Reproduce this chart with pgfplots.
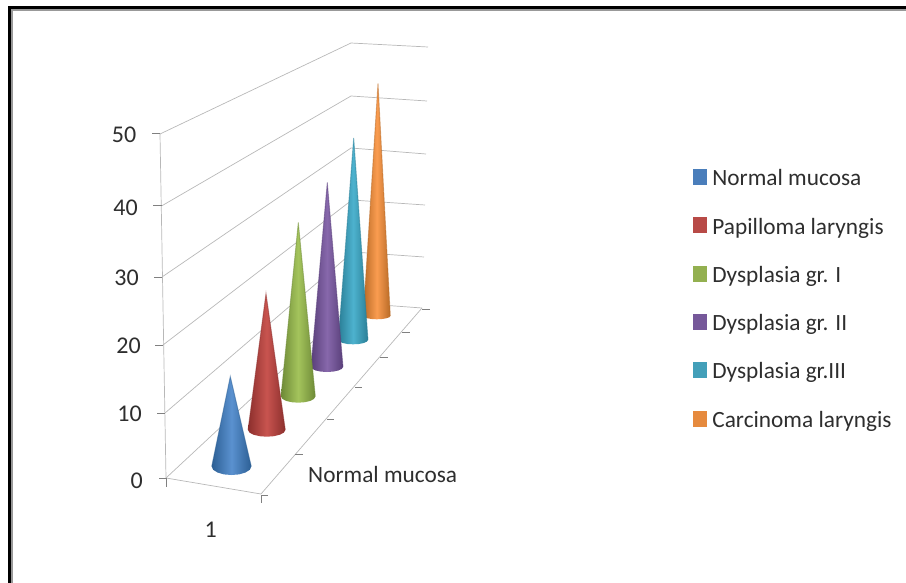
\documentclass[border=0pt]{standalone}
\usepackage{pgfplots}
\pgfplotsset{compat=1.18}
\usepackage{fontspec}
\setmainfont{Carlito}

\definecolor{blueD}{HTML}{2C5F94}\definecolor{blueM}{HTML}{5A91D0}\definecolor{blueL}{HTML}{4A7EBB}
\definecolor{redD}{HTML}{8C2F2D}\definecolor{redM}{HTML}{C8544F}\definecolor{redL}{HTML}{B84A47}
\definecolor{greenD}{HTML}{6E8A37}\definecolor{greenM}{HTML}{A4C45C}\definecolor{greenL}{HTML}{93B050}
\definecolor{purpleD}{HTML}{593F7A}\definecolor{purpleM}{HTML}{8768AB}\definecolor{purpleL}{HTML}{76589A}
\definecolor{tealD}{HTML}{2A7E96}\definecolor{tealM}{HTML}{4DB2CE}\definecolor{tealL}{HTML}{439FB9}
\definecolor{orangeD}{HTML}{B86A26}\definecolor{orangeM}{HTML}{FA9C50}\definecolor{orangeL}{HTML}{E68A3E}
\colorlet{gridc}{black!28}
\colorlet{tickc}{black!50}
\colorlet{txt}{black!82}

\pgfplotsset{
  wall/.style={forget plot,gridc,line width=0.7pt},
  tck/.style={forget plot,tickc,line width=1pt},
  side/.style={forget plot,#1,line width=0.9pt,opacity=0.5},
  cone/.style 2 args={forget plot,draw=none,left color=#1,right color=#1,middle color=#2},
  swatch/.style={legend image code/.code={\fill[#1] (0pt,-4pt) rectangle (13pt,11pt);}},
}

\newcommand{\lab}[3]{\node[anchor=base east,text=txt,font=\fontsize{24}{24}\selectfont,inner sep=0pt] at (axis cs:#1,#2) {#3};}

\begin{document}
\begin{tikzpicture}
\begin{axis}[
  hide axis,
  scale only axis,
  width=906pt,height=583pt,
  xmin=0,xmax=906,ymin=0,ymax=583,
  y dir=reverse,
  legend cell align=left,
  legend style={at={(axis cs:693,169)},anchor=north west,draw=none,fill=none,inner sep=0pt,outer sep=0pt,
    row sep=27.6pt,column sep=6pt,text=txt,font=\fontsize{23.3}{23.3}\selectfont,
    nodes={inner sep=0pt,text height=15pt,text depth=4pt}},
]
% page extent and frame
\addplot[forget plot,draw=none] coordinates {(0,0) (906,583)};
\addplot[forget plot,black,line width=3pt] coordinates {(9.5,583) (9.5,8) (906,8)};
\addplot[forget plot,black!40,line width=2pt] coordinates {(12,583) (12,10) (906,10)};

% back walls
\addplot[wall] coordinates {(160,134) (351,43) (428,47)};
\addplot[wall] coordinates {(161.5,206) (351,96) (427,101)};
\addplot[wall] coordinates {(162,277) (351,148) (426,154)};
\addplot[wall] coordinates {(163,345) (352,200) (425,205)};
\addplot[wall] coordinates {(165,413) (353,252) (424,257)};
\addplot[wall] coordinates {(166,478) (354,303) (422,308)};
\addplot[wall] coordinates {(166,478) (261,494) (422,308)};
\addplot[wall] coordinates {(160,134) (166,478)};

% ticks
\addplot[tck] coordinates {(152,134) (160,134)};
\addplot[tck] coordinates {(153,206) (161.5,206)};
\addplot[tck] coordinates {(154,277) (162,277)};
\addplot[tck] coordinates {(155,345) (163,345)};
\addplot[tck] coordinates {(157,413) (165,413)};
\addplot[tck] coordinates {(159,478) (166,478) (166,487)};
\addplot[tck] coordinates {(268,495) (261,495) (261,503)};
\addplot[tck] coordinates {(295,454) (303,454)};
\addplot[tck] coordinates {(327,419) (334,419)};
\addplot[tck] coordinates {(355,387) (362,387)};
\addplot[tck] coordinates {(380,357) (388,357)};
\addplot[tck] coordinates {(402,332) (410,332)};
\addplot[tck] coordinates {(422,309) (430,309)};

% cones, back to front
\addplot[cone={orangeD}{orangeM}] coordinates {(378,83.5) (390.3,316) (389.3,317.3) (386.3,318.3) (382,319) (376.8,319.3) (371.6,319) (367.3,318.3) (364.3,317.3) (363.3,316)} -- cycle;
\addplot[side=orangeD] coordinates {(363.3,316) (378,83.5) (390.3,316)};
\addplot[cone={tealD}{tealM}] coordinates {(353.7,138) (368,340) (366.9,341.6) (363.7,343) (358.9,344) (353.2,344.3) (347.5,344) (342.7,343) (339.5,341.6) (338.3,340)} -- cycle;
\addplot[side=tealD] coordinates {(338.3,340) (353.7,138) (368,340)};
\addplot[cone={purpleD}{purpleM}] coordinates {(327.3,182.5) (343,367) (341.8,368.9) (338.3,370.5) (333.1,371.6) (327,372) (320.9,371.6) (315.7,370.5) (312.2,368.9) (311,367)} -- cycle;
\addplot[side=purpleD] coordinates {(311,367) (327.3,182.5) (343,367)};
\addplot[cone={greenD}{greenM}] coordinates {(298.3,222.5) (315.3,396.5) (314,398.9) (310.3,400.9) (304.8,402.2) (298.2,402.7) (291.6,402.2) (286.1,400.9) (282.4,398.9) (281,396.5)} -- cycle;
\addplot[side=greenD] coordinates {(281,396.5) (298.3,222.5) (315.3,396.5)};
\addplot[cone={redD}{redM}] coordinates {(266,293.5) (285.3,430) (283.9,432.6) (279.9,434.7) (273.8,436.2) (266.7,436.7) (259.6,436.2) (253.5,434.7) (249.5,432.6) (248,430)} -- cycle;
\addplot[side=redD] coordinates {(248,430) (266,293.5) (285.3,430)};
\addplot[cone={blueD}{blueM}] coordinates {(230.3,376.5) (251.3,466.5) (249.8,469.8) (245.5,472.5) (239.1,474.4) (231.5,475) (223.9,474.4) (217.5,472.5) (213.2,469.8) (211.7,466.5)} -- cycle;
\addplot[side=blueD] coordinates {(211.7,466.5) (230.3,376.5) (251.3,466.5)};

\addlegendimage{swatch=blueL}
\addlegendimage{swatch=redL}
\addlegendimage{swatch=greenL}
\addlegendimage{swatch=purpleL}
\addlegendimage{swatch=tealL}
\addlegendimage{swatch=orangeL}
\legend{Normal mucosa,Papilloma laryngis,Dysplasia gr. I,Dysplasia gr. II,Dysplasia gr.III,Carcinoma laryngis}

\lab{136.5}{143}{50}
\lab{138}{215}{40}
\lab{139}{285}{30}
\lab{141}{353}{20}
\lab{142}{421}{10}
\lab{143}{488}{0}
\lab{217}{537}{1}
\node[anchor=base west,text=txt,font=\fontsize{23.3}{23.3}\selectfont,inner sep=0pt] at (axis cs:308,482) {Normal mucosa};
\end{axis}
\end{tikzpicture}
\end{document}
